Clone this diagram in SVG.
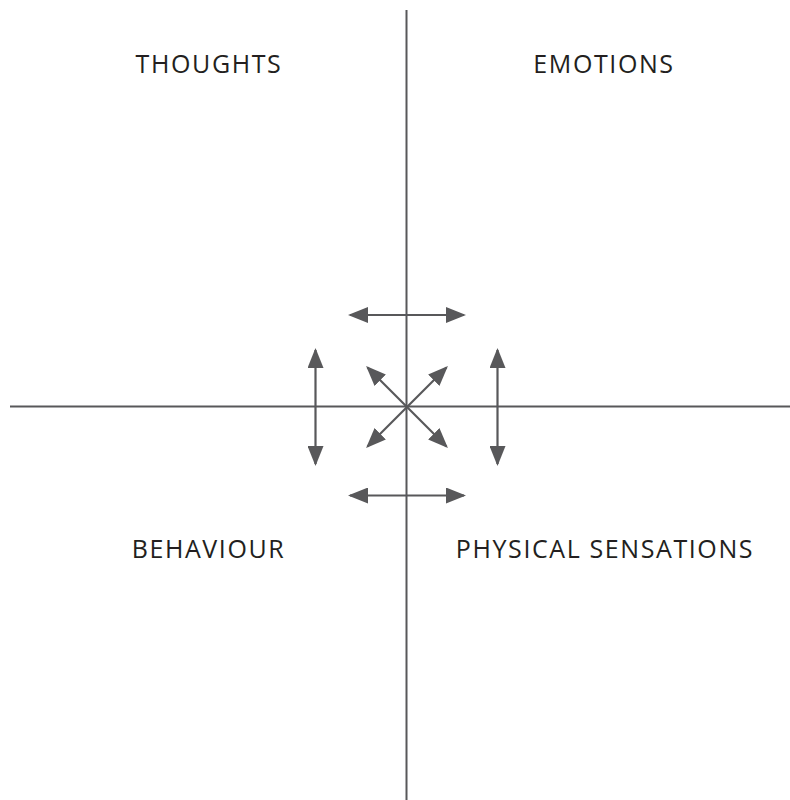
<svg xmlns="http://www.w3.org/2000/svg" width="790" height="800" viewBox="0 0 790 800">
<defs>
<style>
.ax{stroke:#58585a;stroke-width:2;fill:none}
.ar{stroke:#58585a;stroke-width:2.2;fill:none;marker-start:url(#h);marker-end:url(#h)}
.lb{font-family:"Open Sans","Noto Sans",sans-serif;font-size:25px;letter-spacing:1.6px;fill:#231f20;text-anchor:middle}
</style>
<marker id="h" viewBox="0 0 20 16" refX="18" refY="8" markerWidth="20" markerHeight="16" markerUnits="userSpaceOnUse" orient="auto-start-reverse">
<path d="M0,0 L20,8 L0,16 Z" fill="#58585a"/>
</marker>
</defs>
<rect width="790" height="800" fill="#fff"/>
<g id="axes">
<line class="ax" x1="406.5" y1="10" x2="406.5" y2="800"/>
<line class="ax" x1="10" y1="406.5" x2="790" y2="406.5"/>
</g>
<g id="connectors">
<line class="ar" x1="350" y1="315" x2="464" y2="315"/>
<line class="ar" x1="350" y1="495.5" x2="464" y2="495.5"/>
<line class="ar" x1="315.5" y1="350" x2="315.5" y2="464"/>
<line class="ar" x1="497.5" y1="350" x2="497.5" y2="464"/>
<line class="ar" x1="367.5" y1="367.5" x2="446.5" y2="446.5"/>
<line class="ar" x1="446.5" y1="367.5" x2="367.5" y2="446.5"/>
</g>
<g id="thoughts"><text class="lb" x="209" y="73">THOUGHTS</text></g>
<g id="emotions"><text class="lb" x="604" y="73">EMOTIONS</text></g>
<g id="behaviour"><text class="lb" x="208.5" y="558">BEHAVIOUR</text></g>
<g id="physical"><text class="lb" x="605" y="558">PHYSICAL SENSATIONS</text></g>
</svg>
